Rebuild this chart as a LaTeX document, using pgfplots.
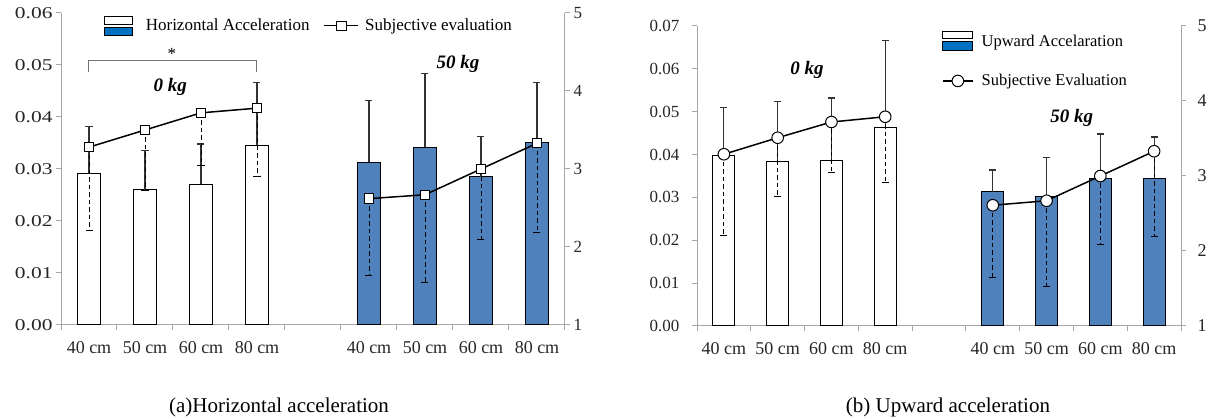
\documentclass[border=0pt]{standalone}
\usepackage{fontspec}
\setmainfont{Liberation Serif}
\newfontfamily\widefont[FakeStretch=1.3]{Liberation Serif}
\usepackage{pgfplots}
\pgfplotsset{compat=1.18}
\definecolor{barblue}{HTML}{4F81BD}
\definecolor{legblue}{HTML}{0070C0}
\definecolor{axisgray}{HTML}{A6A6A6}
\definecolor{errgray}{HTML}{333333}

\pgfplotsset{
  base/.style={scale only axis, xmin=-0.5, xmax=8.5, clip=false,
    tick align=outside, major tick length=5bp,
    axis line style={color=axisgray, line width=1bp},
    every tick/.style={color=axisgray, line width=1bp},
    /pgf/number format/assume math mode=true,
    tick label style={font=\fontsize{17bp}{20bp}\selectfont, text=black!85}},
  barerr/.style={error bars/y dir=plus, error bars/y explicit,
    error bars/error bar style={line width=1.1bp, color=errgray},
    error bars/error mark options={rotate=90, mark size=3.5bp, line width=1.1bp, color=errgray}},
  lineerr/.style={error bars/y dir=minus, error bars/y explicit,
    error bars/error bar style={line width=0.9bp, color=black, dash pattern=on 4.5bp off 3bp},
    error bars/error mark options={rotate=90, mark size=3.5bp, line width=1bp, color=black, solid}},
  sqleg/.style={legend image code/.code={\draw[mark repeat=2, mark phase=2, ##1] plot coordinates {(0bp,0bp) (17bp,0bp) (34bp,0bp)};}},
  cirleg/.style={legend image code/.code={\draw[mark repeat=2, mark phase=2, ##1] plot coordinates {(0bp,0bp) (15bp,0bp) (30bp,0bp)};}},
}

\begin{document}
\begin{tikzpicture}
\path[use as bounding box] (0,0) rectangle (1208bp,419bp);

% ---------- (a) horizontal acceleration ----------
\begin{axis}[base, at={(61bp,94bp)}, anchor=south west, width=504bp, height=312bp,
  axis y line*=left, axis x line*=bottom,
  ymin=0, ymax=0.06, ytick={0,0.01,0.02,0.03,0.04,0.05,0.06}, scaled y ticks=false,
  yticklabel style={font=\widefont\fontsize{16.5bp}{20bp}\selectfont,
    /pgf/number format/.cd, fixed, fixed zerofill, precision=2},
  xtick={-0.5,0.5,...,8.5},
  xticklabels={40 cm,50 cm,60 cm,80 cm,{},40 cm,50 cm,60 cm,80 cm,{}},
  x tick label style={xshift=28bp, yshift=-8bp, font=\fontsize{18bp}{20bp}\selectfont}]
\addplot[ybar, bar shift=0pt, bar width=23bp, fill=white, draw=black, line width=1bp, barerr]
  table[x=x, y=y, y error=e] {
x y e
0 0.0292 0.0089
1 0.0260 0.0075
2 0.0271 0.0077
3 0.0346 0.0121
};
\addplot[ybar, bar shift=0pt, bar width=23bp, fill=barblue, draw=black, line width=1bp, barerr]
  table[x=x, y=y, y error=e] {
x y e
5 0.0313 0.0118
6 0.0342 0.0141
7 0.0285 0.0078
8 0.0350 0.0117
};
\draw[black!55, line width=1bp] (axis cs:0,0.0487) -- (axis cs:0,0.0508) -- (axis cs:3,0.0508) -- (axis cs:3,0.0487);
\node[anchor=base, font=\fontsize{17bp}{20bp}\selectfont] at (axis cs:1.48,0.0510) {*};
\node[font=\fontsize{19bp}{22bp}\selectfont] at (axis cs:1.45,0.0458) {\textbf{\textit{0 kg}}};
\node[font=\fontsize{19bp}{22bp}\selectfont] at (axis cs:6.59,0.0502) {\textbf{\textit{50 kg}}};
\end{axis}

\begin{axis}[base, at={(61bp,94bp)}, anchor=south west, width=504bp, height=312bp,
  axis y line*=right, axis x line=none,
  ymin=1, ymax=5, ytick={1,2,3,4,5},
  legend style={at={(axis description cs:0.085,0.99)}, anchor=north west, draw=none, fill=none,
    font=\fontsize{17bp}{20bp}\selectfont, inner sep=0pt,
    /tikz/column 1/.style={column sep=11bp},
    /tikz/column 2/.style={column sep=12bp},
    /tikz/column 3/.style={column sep=4bp}},
  legend columns=2]
\addlegendimage{legend image code/.code={
  \draw[black, fill=white, line width=0.8bp] (0bp,1.5bp) rectangle (28bp,9bp);
  \draw[black, fill=legblue, line width=0.8bp] (0bp,-9.5bp) rectangle (28bp,-1.5bp);}}
\addlegendentry{Horizontal Acceleration}
\addplot[black, line width=1.5bp, mark=square*, mark size=4.7bp,
  mark options={fill=white, draw=black, line width=1bp, solid}, lineerr, sqleg]
  table[x=x, y=y, y error=e] {
x y e
0 3.28 1.07
1 3.50 0.78
2 3.72 0.67
3 3.78 0.88
};
\addlegendentry{Subjective evaluation}
\addplot[forget plot, black, line width=1.5bp, mark=square*, mark size=4.7bp,
  mark options={fill=white, draw=black, line width=1bp, solid}, lineerr]
  table[x=x, y=y, y error=e] {
x y e
5 2.62 0.98
6 2.67 1.13
7 3.00 0.90
8 3.33 1.14
};
\end{axis}

% ---------- (b) upward acceleration ----------
\begin{axis}[base, at={(697bp,93bp)}, anchor=south west, width=484bp, height=300bp,
  axis y line*=left, axis x line*=bottom,
  ymin=0, ymax=0.07, ytick={0,0.01,0.02,0.03,0.04,0.05,0.06,0.07}, scaled y ticks=false,
  yticklabel style={xshift=-9bp, /pgf/number format/.cd, fixed, fixed zerofill, precision=2},
  xtick={-0.5,0.5,...,8.5},
  xticklabels={40 cm,50 cm,60 cm,80 cm,{},40 cm,50 cm,60 cm,80 cm,{}},
  x tick label style={xshift=26.9bp, yshift=-8bp, font=\fontsize{18bp}{20bp}\selectfont}]
\addplot[ybar, bar shift=0pt, bar width=22bp, fill=white, draw=black, line width=1bp, barerr]
  table[x=x, y=y, y error=e] {
x y e
0 0.0397 0.0112
1 0.0383 0.0140
2 0.0387 0.0145
3 0.0462 0.0205
};
\addplot[ybar, bar shift=0pt, bar width=22bp, fill=barblue, draw=black, line width=1bp, barerr]
  table[x=x, y=y, y error=e] {
x y e
5 0.0313 0.0051
6 0.0303 0.0091
7 0.0343 0.0105
8 0.0345 0.0096
};
\node[font=\fontsize{19bp}{22bp}\selectfont] at (axis cs:1.545,0.0597) {\textbf{\textit{0 kg}}};
\node[font=\fontsize{19bp}{22bp}\selectfont] at (axis cs:6.47,0.0485) {\textbf{\textit{50 kg}}};
\end{axis}

\begin{axis}[base, at={(697bp,93bp)}, anchor=south west, width=484bp, height=300bp,
  axis y line*=right, axis x line=none,
  ymin=1, ymax=5, ytick={1,2,3,4,5},
  yticklabel style={xshift=8bp, font=\fontsize{18bp}{20bp}\selectfont},
  legend style={at={(axis description cs:0.506,0.985)}, anchor=north west, draw=none, fill=none,
    font=\fontsize{16.5bp}{20bp}\selectfont, inner sep=0pt, row sep=22bp,
    /tikz/column 1/.style={column sep=6bp}},
  legend cell align=left]
\addlegendimage{legend image code/.code={
  \draw[black, fill=white, line width=0.8bp] (0bp,3bp) rectangle (30bp,10bp);
  \draw[black, fill=legblue, line width=0.8bp] (0bp,-9bp) rectangle (30bp,0bp);}}
\addlegendentry{Upward Accelaration}
\addplot[black, line width=1.5bp, mark=*, mark size=5.8bp,
  mark options={fill=white, draw=black, line width=1bp, solid}, lineerr, cirleg]
  table[x=x, y=y, y error=e] {
x y e
0 3.29 1.09
1 3.51 0.79
2 3.72 0.67
3 3.79 0.88
};
\addlegendentry{Subjective Evaluation}
\addplot[forget plot, black, line width=1.5bp, mark=*, mark size=5.8bp,
  mark options={fill=white, draw=black, line width=1bp, solid}, lineerr]
  table[x=x, y=y, y error=e] {
x y e
5 2.61 0.97
6 2.67 1.15
7 3.00 0.91
8 3.33 1.14
};
\end{axis}

\node[font=\fontsize{21bp}{24bp}\selectfont] at (279bp,11.5bp) {(a)Horizontal acceleration};
\node[font=\fontsize{21bp}{24bp}\selectfont] at (948bp,11.5bp) {(b) Upward acceleration};
\end{tikzpicture}
\end{document}
